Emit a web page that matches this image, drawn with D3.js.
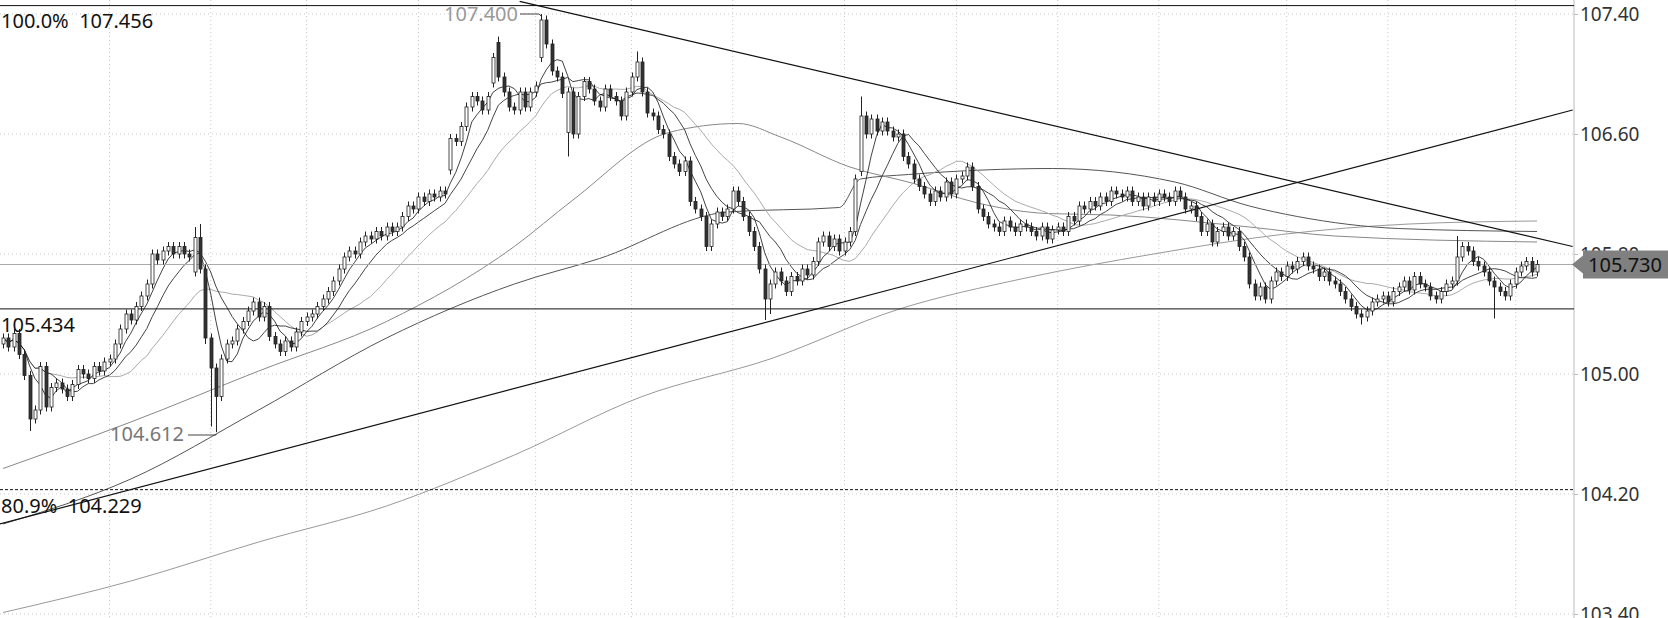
<!DOCTYPE html>
<html><head><meta charset="utf-8">
<script src="https://cdn.jsdelivr.net/npm/d3@7/dist/d3.min.js"></script>
<style>body{margin:0;background:#fff}svg{display:block}text{font-family:"Noto Sans","DejaVu Sans",sans-serif}</style>
</head><body><svg id="c" width="1668" height="618"></svg>
<script>
const closes=[105.24,105.18,105.27,105.13,104.99,104.70,104.76,105.05,104.78,104.91,
104.94,104.90,104.85,104.93,105.03,105.00,104.97,105.05,105.02,105.08,
105.10,105.20,105.30,105.40,105.36,105.45,105.52,105.60,105.80,105.76,
105.82,105.85,105.80,105.85,105.80,105.78,105.91,105.70,105.24,105.04,
104.85,105.10,105.20,105.22,105.30,105.35,105.42,105.48,105.38,105.45,
105.25,105.20,105.15,105.22,105.18,105.28,105.35,105.38,105.40,105.45,
105.50,105.55,105.62,105.70,105.78,105.82,105.80,105.88,105.92,105.90,
105.95,105.92,105.98,105.95,105.98,106.05,106.12,106.10,106.18,106.15,
106.20,106.18,106.22,106.20,106.57,106.55,106.65,106.78,106.85,106.82,
106.76,106.85,107.11,106.98,106.88,106.78,106.76,106.88,106.78,106.88,
106.92,107.36,107.20,107.02,106.98,106.87,106.88,106.60,106.85,106.95,
106.90,106.82,106.78,106.90,106.85,106.82,106.72,106.88,106.98,107.08,
106.88,106.74,106.72,106.63,106.60,106.45,106.40,106.35,106.42,106.15,
106.10,106.05,105.85,106.00,106.08,106.05,106.10,106.22,106.15,106.05,
105.95,105.85,105.70,105.50,105.60,105.68,105.62,105.55,105.65,105.62,
105.70,105.66,105.75,105.88,105.92,105.85,105.90,105.82,105.88,105.95,
106.30,106.72,106.60,106.70,106.62,106.68,106.62,106.58,106.60,106.45,
106.40,106.30,106.25,106.20,106.15,106.22,106.18,106.28,106.20,106.30,
106.32,106.38,106.25,106.10,106.05,106.00,105.98,105.95,106.02,105.98,
105.95,106.00,105.98,105.95,105.92,105.98,105.90,105.96,105.98,105.95,
106.05,106.02,106.12,106.10,106.15,106.12,106.18,106.15,106.22,106.20,
106.18,106.22,106.15,106.18,106.12,106.18,106.15,106.20,106.18,106.15,
106.22,106.18,106.10,106.12,106.05,105.95,106.00,105.88,105.95,105.98,
105.92,105.95,105.85,105.78,105.60,105.52,105.58,105.50,105.62,105.68,
105.65,105.72,105.70,105.75,105.78,105.72,105.70,105.65,105.68,105.62,
105.60,105.55,105.50,105.45,105.40,105.38,105.42,105.48,105.50,105.52,
105.48,105.55,105.58,105.62,105.56,105.65,105.60,105.58,105.52,105.50,
105.55,105.60,105.62,105.78,105.85,105.82,105.75,105.72,105.68,105.62,
105.58,105.55,105.52,105.60,105.68,105.72,105.75,105.68,105.73];
const firstOpen=105.20;
const openFix=[[84,106.36],[92,106.94],[93,107.21],[101,107.11],[106,106.61],[36,105.68],[161,106.35]];
const highFix=[[101,107.40],[93,107.25],[161,106.85],[119,107.15],[36,105.98],[37,106.0],[273,105.92]];
const lowFix=[[5,104.62],[40,104.612],[39,104.65],[106,106.45],[143,105.36],[144,105.40],[280,105.37],[255,105.33],[38,105.2]];
const ma60=[[0,104.37],[24,104.68],[48,105.02],[72,105.35],[96,105.85],[107,106.16],[125,106.61],[138,106.67],[146,106.58],[159,106.38],[171,106.27],[183,106.14],[196,106.07],[208,106.06],[234,105.98],[250,105.92],[288,105.88]];
const ma120=[[0,104.00],[24,104.30],[48,104.76],[72,105.24],[96,105.60],[112,105.77],[136,106.08],[157,106.11],[161,106.30],[170,106.33],[184,106.36],[197,106.37],[220,106.28],[234,106.12],[243,106.05],[262,105.97],[288,105.95]];
const ma250=[[0,103.41],[24,103.62],[48,103.88],[72,104.12],[96,104.46],[120,104.85],[144,105.10],[168,105.43],[192,105.64],[216,105.80],[240,105.93],[264,106.00],[288,106.02]];
const yTicks=[107.40,106.60,105.80,105.00,104.20,103.40];
const gridIdx=[20,39,57,78,100,118,137,158,179,198,217,241,260,284];
const hLines={top:107.456,mid:105.434,fib:104.229,last:105.730};
const downTrend=[[97,107.484],[294.7,105.85]];
const upTrend=[[-0.6,104.0],[294.7,106.76]];

const svg=d3.select("#c");
const x=d3.scaleLinear().domain([0,closes.length-1]).range([3,1537]);
const y=d3.scaleLinear().domain([103.4,107.4]).range([614,14]);
const R=1574;
const opens=closes.map((c,i)=>i?closes[i-1]:firstOpen);
openFix.forEach(([i,v])=>opens[i]=v);
const highs=closes.map((c,i)=>Math.max(c,opens[i])+0.03);
const lows=closes.map((c,i)=>Math.min(c,opens[i])-0.03);
highFix.forEach(([i,v])=>highs[i]=v);lowFix.forEach(([i,v])=>lows[i]=v);

svg.append("g").selectAll("line").data(yTicks).join("line").attr("x1",0).attr("x2",R).attr("y1",d=>y(d)).attr("y2",d=>y(d)).attr("stroke","#c8c8c8").attr("stroke-dasharray","1,3");
svg.append("g").selectAll("line").data(gridIdx).join("line").attr("x1",d=>x(d)).attr("x2",d=>x(d)).attr("y1",0).attr("y2",618).attr("stroke","#c8c8c8").attr("stroke-dasharray","1,3");
svg.append("line").attr("x1",R).attr("x2",R).attr("y1",0).attr("y2",618).attr("stroke","#bbb");
const ax=d3.axisRight(y).tickValues(yTicks).tickSize(4).tickFormat(d3.format(".2f"));
const ag=svg.append("g").attr("transform",`translate(${R},0)`).call(ax);
ag.select(".domain").remove();
ag.selectAll("line").attr("stroke","#bbb");
ag.selectAll("text").attr("font-size",19).attr("fill","#333").attr("x",6);

const line=d3.line().x(d=>x(d[0])).y(d=>y(d[1]));
function sma(n){return closes.map((c,i)=>{const s=closes.slice(Math.max(0,i-n+1),i+1);return [i,d3.mean(s)];});}
svg.append("path").attr("d",line.curve(d3.curveMonotoneX)(ma250)).attr("fill","none").attr("stroke","#999");
svg.append("path").attr("d",line(ma120)).attr("fill","none").attr("stroke","#555");
svg.append("path").attr("d",line(ma60)).attr("fill","none").attr("stroke","#888");
line.curve(d3.curveLinear);
svg.append("path").attr("d",line(sma(20))).attr("fill","none").attr("stroke","#aaa");
svg.append("path").attr("d",line(sma(10))).attr("fill","none").attr("stroke","#444");
svg.append("path").attr("d",line(sma(5))).attr("fill","none").attr("stroke","#111").attr("stroke-width",0.8);

svg.append("line").attr("x1",0).attr("x2",R).attr("y1",y(hLines.top)).attr("y2",y(hLines.top)).attr("stroke","#111");
svg.append("line").attr("x1",0).attr("x2",R).attr("y1",y(hLines.mid)).attr("y2",y(hLines.mid)).attr("stroke","#111");
svg.append("line").attr("x1",0).attr("x2",R).attr("y1",y(hLines.fib)).attr("y2",y(hLines.fib)).attr("stroke","#111").attr("stroke-dasharray","3,2");
svg.append("line").attr("x1",0).attr("x2",R).attr("y1",y(hLines.last)).attr("y2",y(hLines.last)).attr("stroke","#aaa");
[downTrend,upTrend].forEach(t=>svg.append("line").attr("x1",x(t[0][0])).attr("y1",y(t[0][1])).attr("x2",x(t[1][0])).attr("y2",y(t[1][1])).attr("stroke","#111").attr("stroke-width",1.2));

const cg=svg.append("g");
closes.forEach((c,i)=>{
  const o=opens[i],up=c>=o,cx=Math.round(x(i))+0.5;
  cg.append("line").attr("x1",cx).attr("x2",cx).attr("y1",y(highs[i])).attr("y2",y(lows[i])).attr("stroke","#222");
  const top=y(Math.max(o,c)),h=Math.max(1,y(Math.min(o,c))-top);
  cg.append("rect").attr("x",cx-1.5).attr("y",top).attr("width",3).attr("height",h).attr("fill",up?"#fff":"#333").attr("stroke","#222").attr("stroke-width",0.8);
});

function t(s,xx,yy,col,sz){svg.append("text").attr("x",xx).attr("y",yy).attr("fill",col).attr("font-size",sz||20).attr("xml:space","preserve").style("white-space","pre").text(s);}
t("100.0%  107.456",1,28,"#111");
t("105.434",1,332,"#111");
t("80.9%  104.229",1,513,"#111");
t("107.400",444,21,"#999");
t("104.612",110,441,"#777");
const pk=x(101),lo=x(40);
svg.append("path").attr("d",`M520,14H${pk-2}L${pk},${y(107.40)+2}`).attr("fill","none").attr("stroke","#444");
svg.append("path").attr("d",`M188,435H${lo}V${y(104.612)+2}`).attr("fill","none").attr("stroke","#444");
const ly=y(hLines.last);
svg.append("path").attr("d",`M${R-2},${ly}L${R+9},${ly-9}V${ly-14}H1668V${ly+14}H${R+9}V${ly+9}Z`).attr("fill","#808080");
t("105.730",1588,ly+7,"#111",20);
</script></body></html>
